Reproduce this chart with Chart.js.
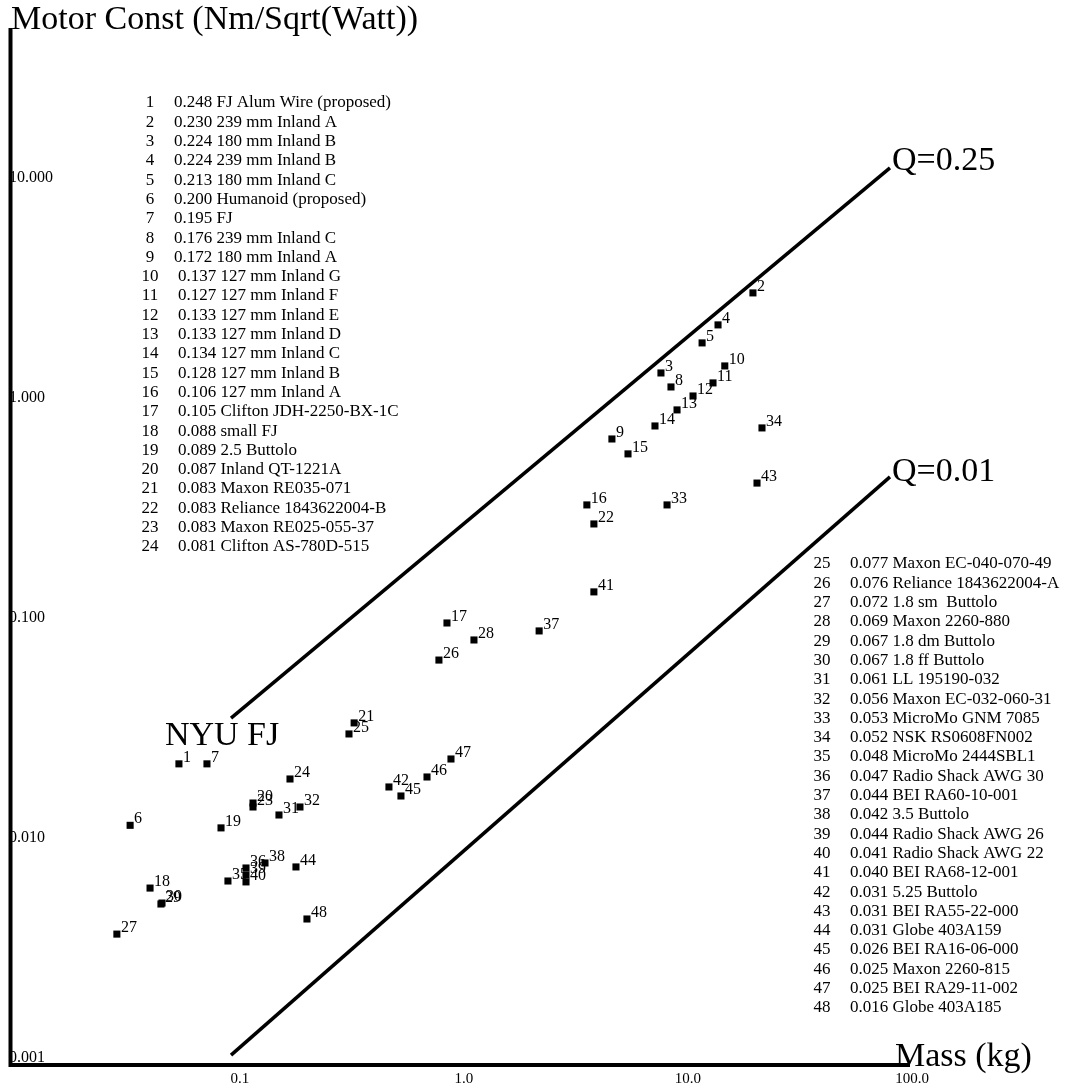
<!DOCTYPE html>
<html>
<head>
<meta charset="utf-8">
<title>Motor Const vs Mass</title>
<script src="https://cdn.jsdelivr.net/npm/chart.js@4.4.1/dist/chart.umd.min.js"></script>
<style>
  html, body { margin: 0; padding: 0; background: #fff; }
  canvas { display: block; }
</style>
</head>
<body>
<canvas id="chart" width="1065" height="1089"></canvas>
<script>
// motor list, index + 1 is the number printed next to each point
const motorNames = [
  'FJ Alum Wire (proposed)', '239 mm Inland A', '180 mm Inland B', '239 mm Inland B',
  '180 mm Inland C', 'Humanoid (proposed)', 'FJ', '239 mm Inland C',
  '180 mm Inland A', '127 mm Inland G', '127 mm Inland F', '127 mm Inland E',
  '127 mm Inland D', '127 mm Inland C', '127 mm Inland B', '127 mm Inland A',
  'Clifton JDH-2250-BX-1C', 'small FJ', '2.5 Buttolo', 'Inland QT-1221A',
  'Maxon RE035-071', 'Reliance 1843622004-B', 'Maxon RE025-055-37', 'Clifton AS-780D-515',
  'Maxon EC-040-070-49', 'Reliance 1843622004-A', '1.8 sm  Buttolo', 'Maxon 2260-880',
  '1.8 dm Buttolo', '1.8 ff Buttolo', 'LL 195190-032', 'Maxon EC-032-060-31',
  'MicroMo GNM 7085', 'NSK RS0608FN002', 'MicroMo 2444SBL1', 'Radio Shack AWG 30',
  'BEI RA60-10-001', '3.5 Buttolo', 'Radio Shack AWG 26', 'Radio Shack AWG 22',
  'BEI RA68-12-001', '5.25 Buttolo', 'BEI RA55-22-000', 'Globe 403A159',
  'BEI RA16-06-000', 'Maxon 2260-815', 'BEI RA29-11-002', 'Globe 403A185'
]
const qValues = [
  0.248, 0.230, 0.224, 0.224, 0.213, 0.200, 0.195, 0.176, 0.172, 0.137, 0.127, 0.133,
  0.133, 0.134, 0.128, 0.106, 0.105, 0.088, 0.089, 0.087, 0.083, 0.083, 0.083, 0.081,
  0.077, 0.076, 0.072, 0.069, 0.067, 0.067, 0.061, 0.056, 0.053, 0.052, 0.048, 0.047,
  0.044, 0.042, 0.044, 0.041, 0.040, 0.031, 0.031, 0.031, 0.026, 0.025, 0.025, 0.016
]
// mass (kg)
const masses = [
  0.0545, 19.9, 7.73, 13.9, 11.8, 0.033, 0.0727, 8.57, 4.67, 14.9, 13.2, 10.75,
  9.12, 7.27, 5.51, 3.61, 0.857, 0.0405, 0.084, 0.1167, 0.33, 3.88, 0.1167, 0.1707,
  0.313, 0.789, 0.0288, 1.131, 0.0453, 0.0458, 0.1524, 0.1891, 8.23, 21.84, 0.0902, 0.1086,
  2.21, 0.132, 0.1086, 0.1086, 3.88, 0.472, 20.75, 0.1815, 0.534, 0.698, 0.893, 0.2032
]
// motor constant (Nm/sqrt(W))
const motorConsts = [
  0.0215, 2.97, 1.285, 2.125, 1.76, 0.0113, 0.0215, 1.11, 0.644, 1.383, 1.158, 1.01,
  0.873, 0.738, 0.551, 0.323, 0.0939, 0.00586, 0.011, 0.01427, 0.033, 0.2647, 0.01369, 0.01835,
  0.0294, 0.0637, 0.00362, 0.0786, 0.00496, 0.00501, 0.01259, 0.01369, 0.323, 0.723, 0.00631, 0.00723,
  0.0864, 0.00762, 0.00672, 0.00625, 0.130, 0.01688, 0.406, 0.00731, 0.01536, 0.01874, 0.02262, 0.00424
]

// the two constant-Q guide lines
const qHighLine = [{ x: 0.0931, y: 0.0347 }, { x: 81.4, y: 10.99 }]
const qLowLine = [{ x: 0.0931, y: 0.00102 }, { x: 81.4, y: 0.433 }]

const xTicks = [0.1, 1, 10, 100]
const xTickLabels = ['0.1', '1.0', '10.0', '100.0']
const yTicks = [10, 1, 0.1, 0.01, 0.001]
const yTickLabels = ['10.000', '1.000', '0.100', '0.010', '0.001']

const serif = '"Liberation Serif", "Times New Roman", serif'

const points = masses.map((m, i) => ({ x: m, y: motorConsts[i] }))

const drawExtras = {
  id: 'drawExtras',
  afterDatasetsDraw (chart) {
    const { ctx, chartArea } = chart
    const xs = chart.scales.x
    const ys = chart.scales.y
    ctx.save()
    ctx.fillStyle = '#000'
    ctx.strokeStyle = '#000'

    // axes
    ctx.lineWidth = 4
    ctx.beginPath()
    ctx.moveTo(chartArea.left + 0.5, chartArea.top)
    ctx.lineTo(chartArea.left + 0.5, chartArea.bottom + 2)
    ctx.moveTo(chartArea.left - 1, chartArea.bottom)
    ctx.lineTo(chartArea.right, chartArea.bottom)
    ctx.stroke()

    // tick labels
    ctx.font = '16px ' + serif
    ctx.textAlign = 'left'
    ctx.textBaseline = 'middle'
    yTicks.forEach((v, i) => ctx.fillText(yTickLabels[i], chartArea.left - 1, ys.getPixelForValue(v) + 1))
    ctx.font = '15px ' + serif
    ctx.textAlign = 'center'
    xTicks.forEach((v, i) => ctx.fillText(xTickLabels[i], xs.getPixelForValue(v) + 2, chartArea.bottom + 14))

    // point numbers
    ctx.font = '16px ' + serif
    ctx.textAlign = 'left'
    ctx.textBaseline = 'alphabetic'
    chart.getDatasetMeta(0).data.forEach((el, i) => {
      ctx.fillText(String(i + 1), el.x + 4, el.y - 2)
    })

    // axis titles and annotations
    ctx.font = '34px ' + serif
    ctx.fillText('Motor Const (Nm/Sqrt(Watt))', 11, 29)
    ctx.fillText('Mass (kg)', chartArea.right - 15, chartArea.bottom + 1)
    const hi = qHighLine[1]
    const lo = qLowLine[1]
    ctx.fillText('Q=0.25', xs.getPixelForValue(hi.x) + 2, ys.getPixelForValue(hi.y) + 2)
    ctx.fillText('Q=0.01', xs.getPixelForValue(lo.x) + 2, ys.getPixelForValue(lo.y) + 4)
    ctx.fillText('NYU FJ', xs.getPixelForValue(masses[0]) - 14, ys.getPixelForValue(motorConsts[0]) - 19)

    // motor list
    ctx.font = '17px ' + serif
    ctx.textBaseline = 'middle'
    motorNames.forEach((name, i) => {
      const left = i < 24
      const row = left ? i : i - 24
      const y = (left ? 103 : 564) + row * 19.3
      const numX = left ? 150 : 822
      const txtX = left ? (i >= 9 ? 178 : 174) : 850
      ctx.textAlign = 'center'
      ctx.fillText(String(i + 1), numX, y)
      ctx.textAlign = 'left'
      ctx.fillText(qValues[i].toFixed(3) + ' ' + name, txtX, y)
    })
    ctx.restore()
  },
}

new Chart(document.getElementById('chart'), {
  type: 'scatter',
  data: {
    datasets: [
      {
        label: 'motors',
        data: points,
        pointStyle: 'rect',
        pointRadius: 5,
        pointBorderWidth: 0,
        backgroundColor: '#000',
        borderColor: '#000',
      },
      {
        label: 'Q=0.25',
        data: qHighLine,
        showLine: true,
        borderColor: '#000',
        borderWidth: 3.5,
        pointRadius: 0,
      },
      {
        label: 'Q=0.01',
        data: qLowLine,
        showLine: true,
        borderColor: '#000',
        borderWidth: 3.5,
        pointRadius: 0,
      },
    ],
  },
  options: {
    responsive: false,
    animation: false,
    devicePixelRatio: 1,
    layout: { padding: { left: 10, right: 155, top: 28, bottom: 24 } },
    plugins: { legend: { display: false }, tooltip: { enabled: false } },
    scales: {
      x: { type: 'logarithmic', display: false, bounds: 'data', min: 0.0096, max: 100 },
      y: { type: 'logarithmic', display: false, bounds: 'data', min: 0.00092, max: 47.5 },
    },
  },
  plugins: [drawExtras],
})
</script>
</body>
</html>
